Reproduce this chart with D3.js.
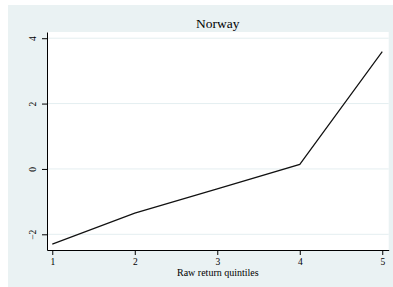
<!DOCTYPE html>
<html>
<head>
<meta charset="utf-8">
<script src="https://cdn.jsdelivr.net/npm/d3@7"></script>
<style>
  body { margin: 0; background: #fff; }
  svg { display: block; font-family: "Liberation Serif", "DejaVu Serif", serif; }
</style>
</head>
<body>
<script>
// quintile averages
var quintiles = [1, 2, 3, 4, 5];
var values = [-2.30, -1.35, -0.61, 0.14, 3.59];
var yTicks = [-2, 0, 2, 4];
var title = "Norway";
var xTitle = "Raw return quintiles";

var W = 393, H = 287;
var margin = { left: 47, right: 4.3, top: 32, bottom: 37 };
var width = W - margin.left - margin.right;
var height = H - margin.top - margin.bottom;

var svg = d3.select("body").append("svg")
  .attr("width", W)
  .attr("height", H);

// outer background (stata-ish light bluish gray)
svg.append("rect")
  .attr("x", 8).attr("y", 5)
  .attr("width", W - 8).attr("height", H - 5)
  .attr("fill", "#eaf2f3");

var g = svg.append("g")
  .attr("transform", "translate(" + margin.left + "," + margin.top + ")");

g.append("rect")
  .attr("width", width).attr("height", height)
  .attr("fill", "#fff");

var x = d3.scaleLinear()
  .domain([0.936, 5.078])
  .range([0, width]);

var y = d3.scaleLinear()
  .domain([-2.48, 4.19])
  .range([height, 0]);

// gridlines
g.append("g")
  .selectAll("line")
  .data(yTicks)
  .enter()
  .append("line")
    .attr("x1", 0).attr("x2", width)
    .attr("y1", d => y(d)).attr("y2", d => y(d))
    .attr("stroke", "#e4eef0")
    .attr("stroke-width", 1);

// y axis
var yAxis = g.append("g")
  .call(d3.axisLeft(y).tickValues(yTicks).tickFormat(d3.format("d")).tickSize(5).tickPadding(7).tickSizeOuter(0));
yAxis.select(".domain").attr("stroke", "#000");
yAxis.selectAll(".tick line").attr("stroke", "#000");
yAxis.selectAll("text")
  .attr("transform", "rotate(-90)")
  .attr("x", 0)
  .attr("y", -11)
  .attr("dy", "0")
  .style("text-anchor", "middle")
  .style("font-size", "9.5px")
  .style("font-family", "Liberation Serif, serif")
  .attr("fill", "#000");

// x axis
var xAxis = g.append("g")
  .attr("transform", "translate(0," + height + ")")
  .call(d3.axisBottom(x).tickValues(quintiles).tickFormat(d3.format("d")).tickSize(5).tickPadding(3).tickSizeOuter(0));
xAxis.select(".domain").attr("stroke", "#000");
xAxis.selectAll(".tick line").attr("stroke", "#000");
xAxis.selectAll("text")
  .style("font-size", "9.5px")
  .style("font-family", "Liberation Serif, serif")
  .attr("fill", "#000");

// the line
var line = d3.line()
  .x((d, i) => x(quintiles[i]))
  .y(d => y(d));

g.append("path")
  .datum(values)
  .attr("d", line)
  .attr("fill", "none")
  .attr("stroke", "#111")
  .attr("stroke-width", 1.2);

// title
svg.append("text")
  .attr("x", margin.left + width / 2)
  .attr("y", 28)
  .style("text-anchor", "middle")
  .style("font-size", "13.5px")
  .text(title);

// x label
svg.append("text")
  .attr("x", margin.left + width / 2)
  .attr("y", 276)
  .style("text-anchor", "middle")
  .style("font-size", "10px")
  .text(xTitle);
</script>
</body>
</html>
